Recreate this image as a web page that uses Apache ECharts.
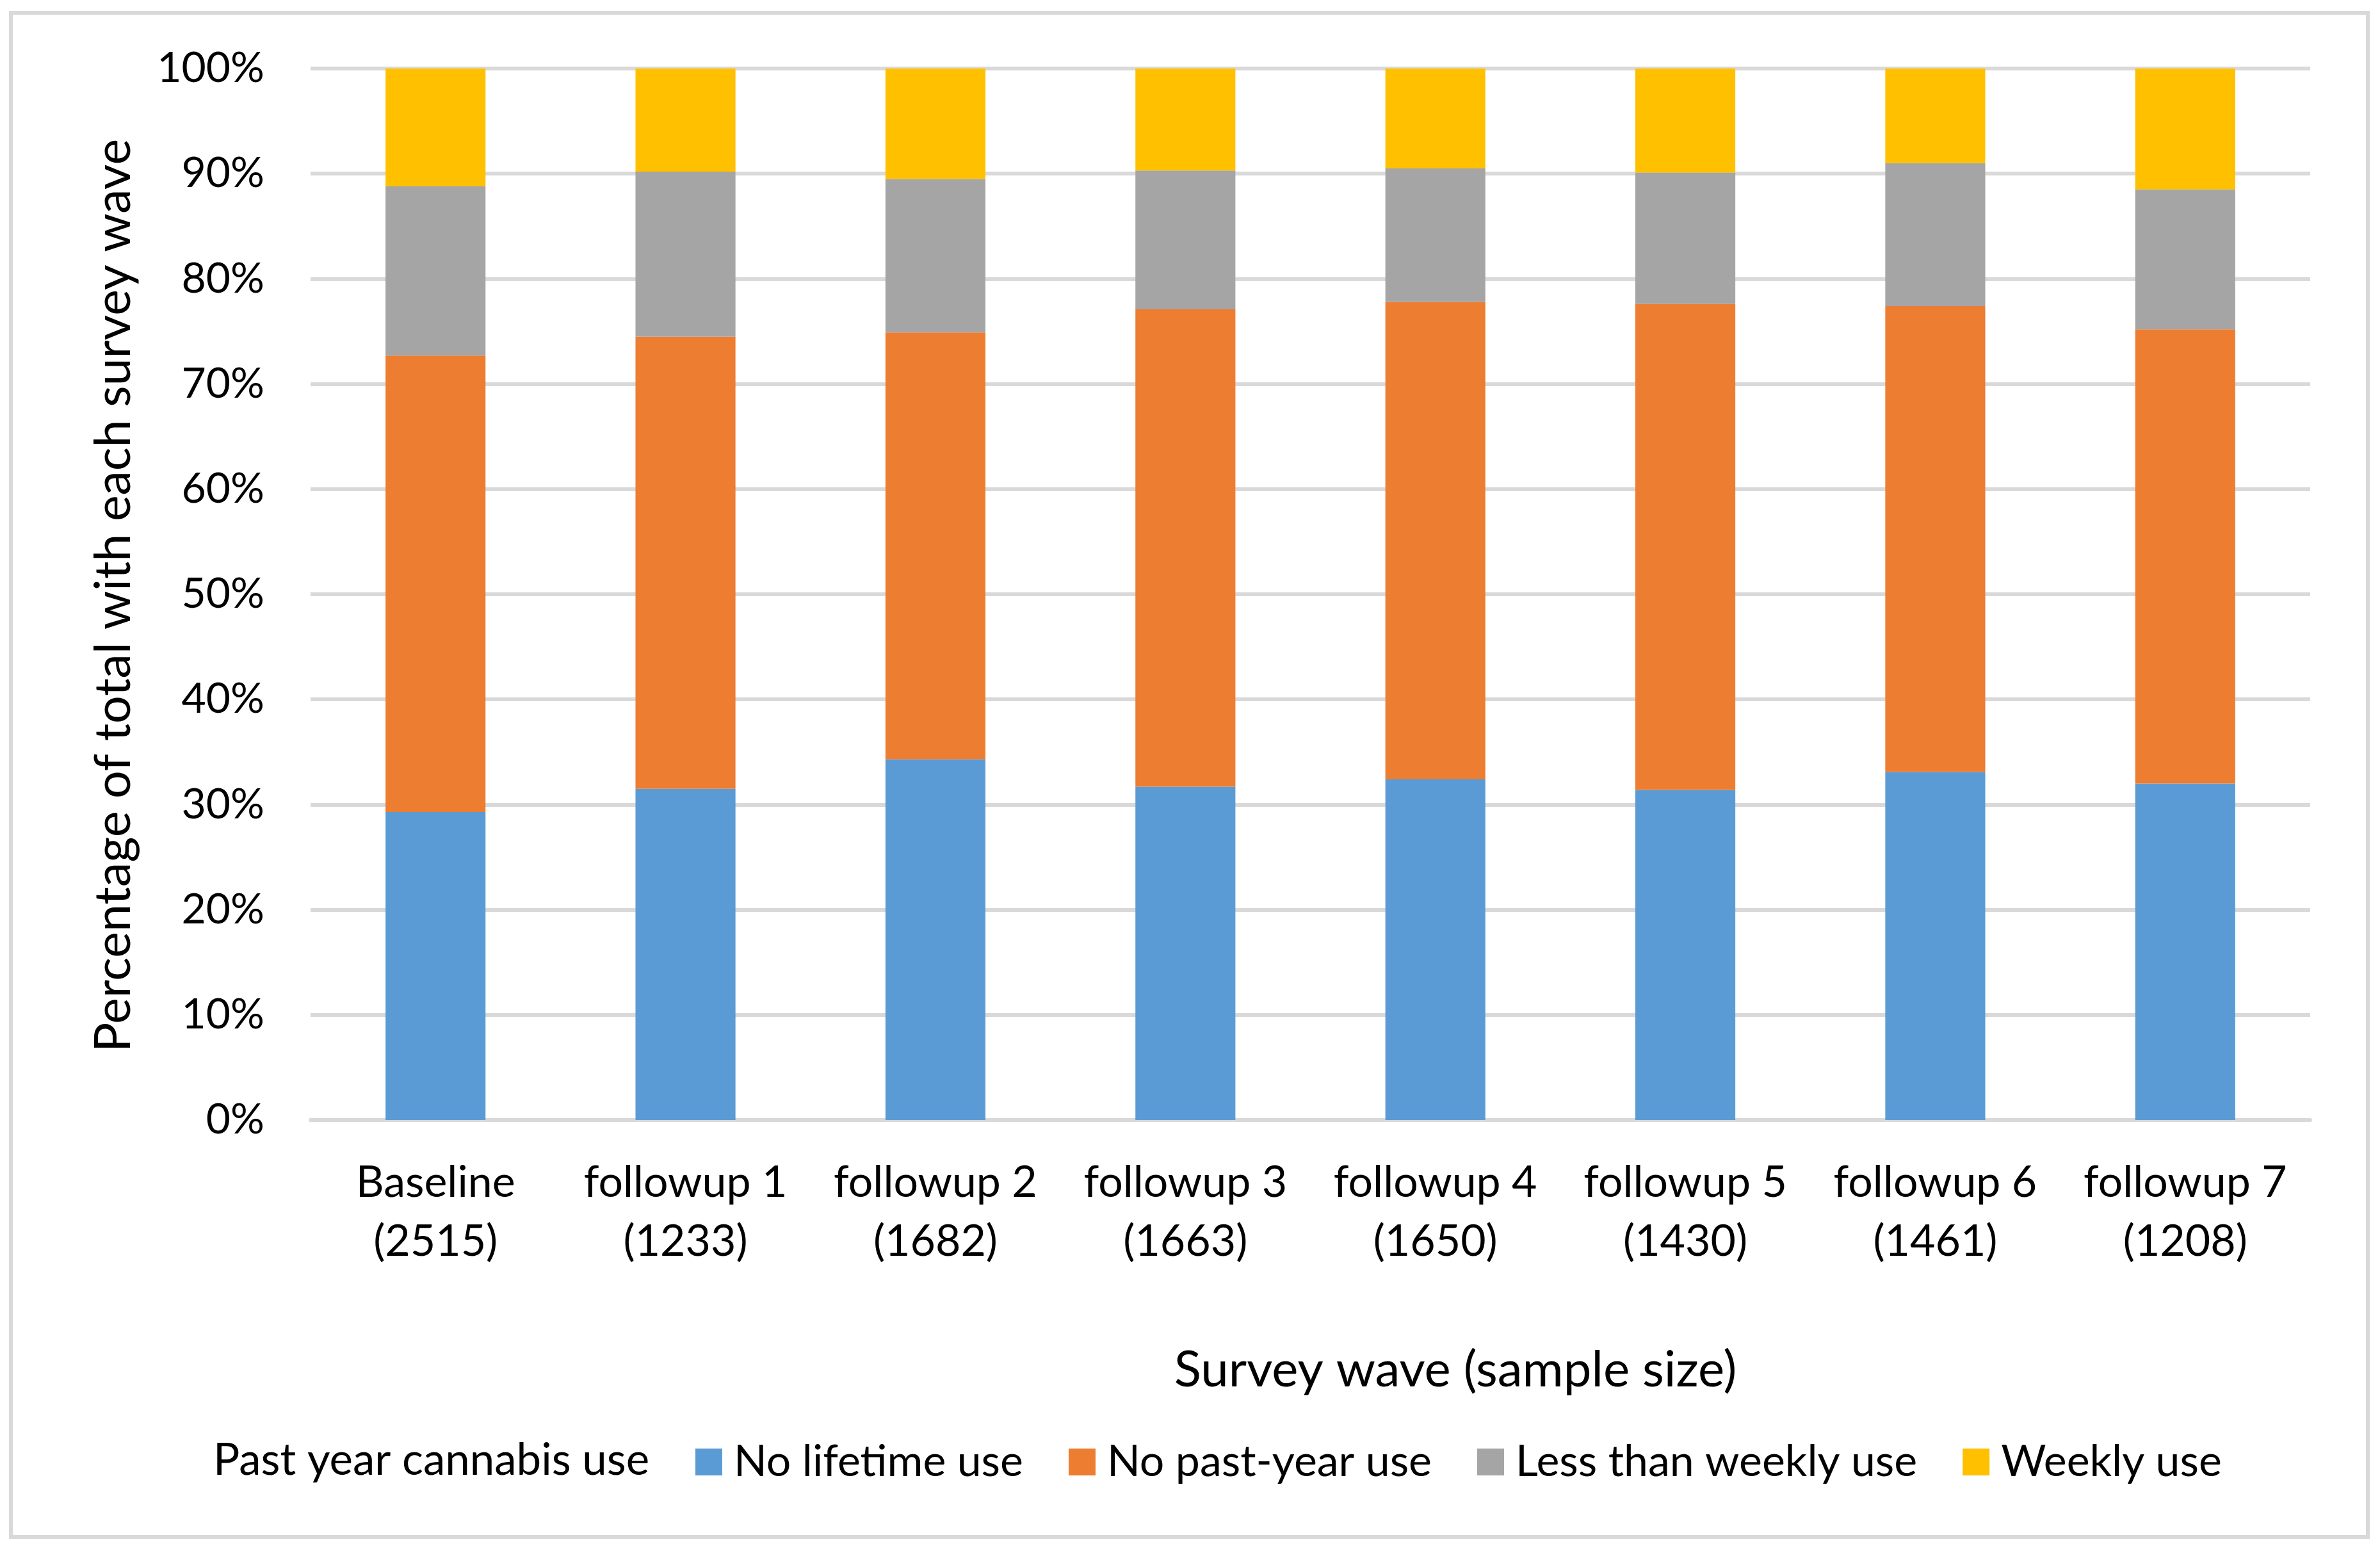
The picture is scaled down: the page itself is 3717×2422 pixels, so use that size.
<!DOCTYPE html>
<html>
<head>
<meta charset="utf-8">
<script src="https://cdn.jsdelivr.net/npm/echarts@6/dist/echarts.min.js"></script>
<style>
html,body{margin:0;padding:0;background:#fff;}
#c{width:3717px;height:2422px;}
</style>
</head>
<body>
<div id="c"></div>
<script>
const categories = ['Baseline\n(2515)','followup 1\n(1233)','followup 2\n(1682)','followup 3\n(1663)','followup 4\n(1650)','followup 5\n(1430)','followup 6\n(1461)','followup 7\n(1208)'];
const seriesNames = ['No lifetime use','No past-year use','Less than weekly use','Weekly use'];
const noLifetime   = [29.3, 31.5, 34.3, 31.7, 32.4, 31.4, 33.1, 32.0];
const noPastYear   = [43.4, 43.0, 40.6, 45.4, 45.4, 46.2, 44.3, 43.2];
const lessWeekly   = [16.1, 15.7, 14.6, 13.2, 12.7, 12.5, 13.6, 13.3];
const weekly       = [11.2,  9.8, 10.5,  9.7,  9.5,  9.9,  9.0, 11.5];
const colors = ['#5B9BD5','#ED7D31','#A5A5A5','#FFC000'];
const yTitle = 'Percentage of total with each survey wave';
const xTitle = 'Survey wave (sample size)';
const legendTitle = 'Past year cannabis use';

const FONT = 'Lato, "Noto Sans", sans-serif';
const chart = echarts.init(document.getElementById('c'), null, {renderer:'canvas'});
const values = [noLifetime, noPastYear, lessWeekly, weekly];
chart.setOption({
  animation: false,
  backgroundColor: '#fff',
  textStyle: {fontFamily: FONT},
  grid: {left: 485, right: 109, top: 107, bottom: 673},
  xAxis: {
    type: 'category', data: categories,
    axisTick: {show: false},
    axisLine: {lineStyle: {color: '#D9D9D9', width: 6}},
    axisLabel: {interval: 0, color: '#000', fontSize: 68, lineHeight: 92, margin: 52, fontFamily: FONT}
  },
  yAxis: {
    type: 'value', min: 0, max: 100, interval: 10,
    axisLine: {show: false}, axisTick: {show: false},
    axisLabel: {formatter: '{value}%', color: '#000', fontSize: 66, margin: 72, fontFamily: FONT},
    splitLine: {lineStyle: {color: '#D9D9D9', width: 6}}
  },
  legend: {
    data: seriesNames, left: 1081, top: 2244,
    itemWidth: 42, itemHeight: 42, itemGap: 71,
    icon: 'rect',
    textStyle: {fontSize: 68, color: '#000', fontFamily: FONT, padding: [0,0,0,13]}
  },
  series: seriesNames.map((n, i) => ({
    name: n, type: 'bar', stack: 'total', data: values[i],
    barWidth: '40%', itemStyle: {color: colors[i]}
  })),
  graphic: [
    {type: 'rect', shape: {x: 17, y: 20, width: 3681, height: 2380}, style: {fill: 'none', stroke: '#D9D9D9', lineWidth: 6}, silent: true},
    {type: 'text', x: 178, y: 930, rotation: Math.PI/2, style: {text: yTitle, font: '77px ' + FONT, fill: '#000', textAlign: 'center', textVerticalAlign: 'middle'}},
    {type: 'text', x: 2273, y: 2140, style: {text: xTitle, font: '78px ' + FONT, fill: '#000', textAlign: 'center', textVerticalAlign: 'middle'}},
    {type: 'text', x: 333, y: 2281, style: {text: legendTitle, font: '69px ' + FONT, fill: '#000', textAlign: 'left', textVerticalAlign: 'middle'}}
  ]
});
</script>
</body>
</html>
